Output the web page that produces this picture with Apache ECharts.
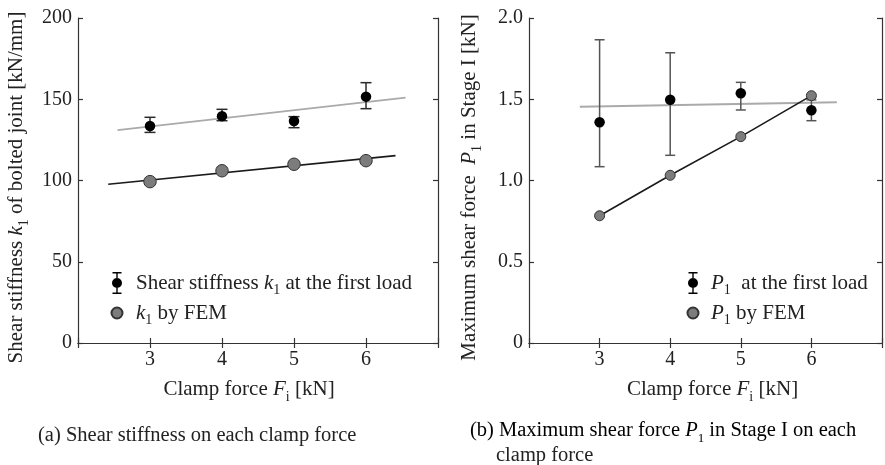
<!DOCTYPE html>
<html>
<head>
<meta charset="utf-8">
<script src="https://cdn.jsdelivr.net/npm/echarts@6/dist/echarts.min.js"></script>
<style>
  html, body { margin: 0; padding: 0; background: #fff; }
  #main { width: 885px; height: 465px; }
</style>
</head>
<body>
<div id="main"></div>
<script>
// clamp force categories (x values)
const clampForce = [3, 4, 5, 6]

// (a) shear stiffness k1 [kN/mm]
const k1Exp = [133.5, 139.6, 136.6, 151.6]
const k1ExpLow = [129.6, 136.8, 132.5, 144.2]
const k1ExpHigh = [138.9, 143.8, 139.3, 160.2]
const k1Fem = [99.3, 106, 110, 112.2]
const k1ExpFit = [[2.55, 131], [6.55, 151]]
const k1FemFit = [[2.42, 97.7], [6.41, 115.3]]

// (b) maximum shear force P1 [kN]
const p1Exp = [1.358, 1.497, 1.537, 1.432]
const p1ExpLow = [1.085, 1.155, 1.434, 1.368]
const p1ExpHigh = [1.866, 1.786, 1.604, 1.496]
const p1Fem = [0.783, 1.032, 1.27, 1.522]
const p1ExpFit = [[2.72, 1.454], [6.36, 1.481]]

const xTicks = [3, 4, 5, 6]
const k1Ticks = ['0', '50', '100', '150', '200']
const p1Ticks = ['0', '0.5', '1.0', '1.5', '2.0']

const FONT = '"Liberation Serif", "Times New Roman", serif'
const INK = '#222'

function richStyles (fs) {
  return {
    t: { fontSize: fs, fontFamily: FONT, color: INK, lineHeight: fs + 8 },
    i: { fontSize: fs, fontFamily: FONT, color: INK, lineHeight: fs + 8, fontStyle: 'italic' },
    s: { fontSize: Math.round(fs * 0.65), fontFamily: FONT, color: INK, lineHeight: Math.round(fs * 0.65), verticalAlign: 'bottom' }
  }
}

const zip = (xs, ys) => xs.map((x, i) => [x, ys[i]])
const errData = (lo, hi) => clampForce.map((x, i) => [x, lo[i], hi[i]])

const ERR_ICON = 'path://M1,0L10,0L10,1.4L1,1.4Z M4.8,0L6.2,0L6.2,7L4.8,7Z M0.5,11A5,5 0 1,1 10.5,11A5,5 0 1,1 0.5,11Z M4.8,15L6.2,15L6.2,22L4.8,22Z M1,20.6L10,20.6L10,22L1,22Z'

function errorBar (color, cap) {
  return function (params, api) {
    const x = api.value(0)
    const top = api.coord([x, api.value(2)])
    const bot = api.coord([x, api.value(1)])
    const style = { stroke: color, lineWidth: 1.5 }
    return {
      type: 'group',
      children: [
        { type: 'line', shape: { x1: top[0], y1: top[1], x2: bot[0], y2: bot[1] }, style },
        { type: 'line', shape: { x1: top[0] - cap, y1: top[1], x2: top[0] + cap, y2: top[1] }, style },
        { type: 'line', shape: { x1: bot[0] - cap, y1: bot[1], x2: bot[0] + cap, y2: bot[1] }, style }
      ]
    }
  }
}

const axisLine = { lineStyle: { color: '#333', width: 1.2 } }
const tickIn = { inside: true, length: 5, lineStyle: { color: '#333', width: 1.2 } }

function xAxes (gridIndex, namePad) {
  return [{
    gridIndex,
    type: 'value',
    min: 2,
    max: 7,
    interval: 1,
    position: 'bottom',
    axisLine,
    axisTick: tickIn,
    splitLine: { show: false },
    axisLabel: {
      margin: 7,
      fontSize: 20,
      fontFamily: FONT,
      color: INK,
      formatter: v => (xTicks.indexOf(v) >= 0 ? String(v) : '')
    },
    name: '{t|Clamp force }{i|F}{s|i}{t| [kN]}',
    nameLocation: 'middle',
    nameGap: 32,
    nameTextStyle: { padding: namePad, rich: richStyles(21) }
  }, {
    gridIndex,
    type: 'value',
    min: 2,
    max: 7,
    interval: 1,
    position: 'top',
    axisLine,
    axisTick: tickIn,
    axisLabel: { show: false },
    splitLine: { show: false }
  }]
}

function yAxes (gridIndex, max, interval, labels, name, gap) {
  return [{
    gridIndex,
    type: 'value',
    min: 0,
    max,
    interval,
    position: 'left',
    axisLine,
    axisTick: tickIn,
    splitLine: { show: false },
    axisLabel: {
      margin: 6,
      fontSize: 20,
      fontFamily: FONT,
      color: INK,
      formatter: (v) => labels[Math.round(v / interval)]
    },
    name,
    nameLocation: 'middle',
    nameGap: gap,
    nameRotate: 90,
    nameTextStyle: { padding: [0, 14, 0, 0], rich: richStyles(21) }
  }, {
    gridIndex,
    type: 'value',
    min: 0,
    max,
    interval,
    position: 'right',
    axisLine,
    axisTick: tickIn,
    axisLabel: { show: false },
    splitLine: { show: false }
  }]
}

const legendText = {
  k1Exp: '{t|Shear stiffness }{i|k}{s|1}{t| at the first load}',
  k1Fem: '{i|k}{s|1}{t| by FEM}',
  p1Exp: '{i|P}{s|1}{t|  at the first load}',
  p1Fem: '{i|P}{s|1}{t| by FEM}'
}

function legend (left, names, pad) {
  return {
    orient: 'vertical',
    left,
    top: 272,
    padding: 0,
    itemWidth: 11,
    itemHeight: 22,
    itemGap: 5,
    selectedMode: false,
    data: [{ name: names[0], icon: ERR_ICON }, { name: names[1], icon: 'circle' }],
    formatter: name => legendText[name],
    textStyle: { padding: [0, 0, 0, pad], rich: richStyles(21) }
  }
}

const chart = echarts.init(document.getElementById('main'), null, { renderer: 'canvas' })

chart.setOption({
  animation: false,
  backgroundColor: '#fff',
  grid: [
    { left: 78, top: 18, width: 360, height: 325 },
    { left: 529, top: 18, width: 360, height: 325 }
  ],
  xAxis: [...xAxes(0, [0, 18, 0, 0]), ...xAxes(1, [0, 0, 0, 14])],
  yAxis: [
    ...yAxes(0, 200, 50, k1Ticks, '{t|Shear stiffness }{i|k}{s|1}{t| of bolted joint [kN/mm]}', 47),
    ...yAxes(1, 2, 0.5, p1Ticks, '{t|Maximum shear force  }{i|P}{s|1}{t| in Stage I [kN]}', 45)
  ],
  legend: [legend(110.5, ['k1Exp', 'k1Fem'], 8.5), legend(686.5, ['p1Exp', 'p1Fem'], 7.5)],
  series: [
    {
      name: 'k1ExpFit', type: 'line', xAxisIndex: 0, yAxisIndex: 0,
      data: k1ExpFit, symbol: 'none', z: 2,
      lineStyle: { color: '#aaa', width: 2 }
    },
    {
      name: 'k1FemFit', type: 'line', xAxisIndex: 0, yAxisIndex: 0,
      data: k1FemFit, symbol: 'none', z: 2,
      lineStyle: { color: '#1a1a1a', width: 1.6 }
    },
    {
      name: 'k1ExpErr', type: 'custom', xAxisIndex: 0, yAxisIndex: 0,
      data: errData(k1ExpLow, k1ExpHigh), encode: { x: 0, y: [1, 2] },
      renderItem: errorBar('#2a2a2a', 5.5), z: 3
    },
    {
      name: 'k1Exp', type: 'scatter', xAxisIndex: 0, yAxisIndex: 0,
      data: zip(clampForce, k1Exp), symbolSize: 10.5, z: 5,
      itemStyle: { color: '#000', opacity: 1 }
    },
    {
      name: 'k1Fem', type: 'scatter', xAxisIndex: 0, yAxisIndex: 0,
      data: zip(clampForce, k1Fem), symbolSize: 12.5, z: 4,
      itemStyle: { color: '#7c7c7c', borderColor: '#333', borderWidth: 1, opacity: 1 }
    },
    {
      name: 'p1ExpFit', type: 'line', xAxisIndex: 2, yAxisIndex: 2,
      data: p1ExpFit, symbol: 'none', z: 2,
      lineStyle: { color: '#aaa', width: 2 }
    },
    {
      name: 'p1FemLine', type: 'line', xAxisIndex: 2, yAxisIndex: 2,
      data: zip(clampForce, p1Fem), symbol: 'none', z: 2,
      lineStyle: { color: '#1a1a1a', width: 1.6 }
    },
    {
      name: 'p1ExpErr', type: 'custom', xAxisIndex: 2, yAxisIndex: 2,
      data: errData(p1ExpLow, p1ExpHigh), encode: { x: 0, y: [1, 2] },
      renderItem: errorBar('#555', 5), z: 3
    },
    {
      name: 'p1Exp', type: 'scatter', xAxisIndex: 2, yAxisIndex: 2,
      data: zip(clampForce, p1Exp), symbolSize: 10.5, z: 5,
      itemStyle: { color: '#000', opacity: 1 }
    },
    {
      name: 'p1Fem', type: 'scatter', xAxisIndex: 2, yAxisIndex: 2,
      data: zip(clampForce, p1Fem), symbolSize: 10, z: 6,
      itemStyle: { color: '#7c7c7c', borderColor: '#333', borderWidth: 1, opacity: 1 }
    }
  ],
  graphic: [
    {
      type: 'text', left: 38, top: 425,
      style: { text: '(a) Shear stiffness on each clamp force', font: '20.5px ' + FONT, fill: INK }
    },
    {
      type: 'text', left: 470, top: 420,
      style: {
        text: '{t|(b) Maximum shear force }{i|P}{s|1}{t| in Stage I on each}',
        rich: richStyles(20.5)
      }
    },
    {
      type: 'text', left: 496, top: 445,
      style: { text: 'clamp force', font: '20.5px ' + FONT, fill: INK }
    }
  ]
})
</script>
</body>
</html>
